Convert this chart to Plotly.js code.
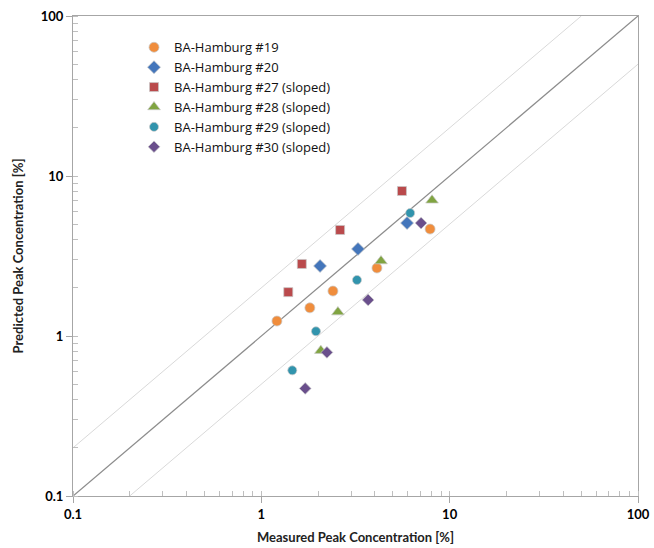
<!DOCTYPE html>
<html>
<head>
<meta charset="utf-8">
<script src="https://cdn.plot.ly/plotly-3.0.1.min.js"></script>
<style>
  html, body { margin: 0; padding: 0; background: #fff; }
  #chart { width: 654px; height: 548px; }
</style>
</head>
<body>
<div id="chart"></div>
<script>
// Measured vs. predicted peak concentration for the BA-Hamburg trials
const seriesNames = [
  'BA-Hamburg #19',
  'BA-Hamburg #20',
  'BA-Hamburg #27 (sloped)',
  'BA-Hamburg #28 (sloped)',
  'BA-Hamburg #29 (sloped)',
  'BA-Hamburg #30 (sloped)'
];

const measured19 = [1.21, 1.81, 2.40, 4.11, 7.87];
const predicted19 = [1.24, 1.50, 1.91, 2.66, 4.66];

const measured20 = [2.05, 3.26, 5.94];
const predicted20 = [2.74, 3.50, 5.08];

const measured27 = [1.39, 1.64, 2.62, 5.58];
const predicted27 = [1.88, 2.82, 4.60, 8.06];

const measured28 = [2.07, 2.55, 4.32, 8.06];
const predicted28 = [0.81, 1.41, 2.94, 7.05];

const measured29 = [1.46, 1.95, 3.22, 6.17];
const predicted29 = [0.61, 1.07, 2.24, 5.87];

const measured30 = [1.71, 2.23, 3.69, 7.05];
const predicted30 = [0.47, 0.79, 1.68, 5.08];

// Reference lines: perfect agreement and factor-of-two bounds
const lineX = [0.1, 100];
const factorTwo = 2;

const markerStyles = [
  { symbol: 'circle', color: '#F08D3C', size: 10 },
  { symbol: 'diamond', color: '#4476BB', size: 10 },
  { symbol: 'square', color: '#BA4A4C', size: 9 },
  { symbol: 'triangle-up', color: '#80A441', size: 11 },
  { symbol: 'circle', color: '#3194AD', size: 9 },
  { symbol: 'diamond', color: '#6A4F8C', size: 9 }
];

const xs = [measured19, measured20, measured27, measured28, measured29, measured30];
const ys = [predicted19, predicted20, predicted27, predicted28, predicted29, predicted30];

const traces = [];

traces.push({
  x: lineX.map(v => v * factorTwo > 100 ? 100 / factorTwo : v),
  y: lineX.map(v => Math.min(v * factorTwo, 100)),
  mode: 'lines', line: { color: '#D9D9D9', width: 1 },
  showlegend: false, hoverinfo: 'skip'
});
traces.push({
  x: lineX.map(v => Math.max(v, 0.1 * factorTwo)),
  y: lineX.map(v => Math.max(v, 0.1 * factorTwo) / factorTwo),
  mode: 'lines', line: { color: '#D9D9D9', width: 1 },
  showlegend: false, hoverinfo: 'skip'
});
traces.push({
  x: lineX, y: lineX,
  mode: 'lines', line: { color: '#8C8C8C', width: 1.3 },
  showlegend: false, hoverinfo: 'skip'
});

seriesNames.forEach((name, i) => {
  traces.push({
    x: xs[i], y: ys[i], name: name,
    mode: 'markers', type: 'scatter',
    marker: {
      symbol: markerStyles[i].symbol,
      color: markerStyles[i].color,
      size: markerStyles[i].size,
      line: { color: 'rgba(200,200,200,0.9)', width: 0.8 }
    }
  });
});

const axisCommon = {
  type: 'log',
  showgrid: false,
  zeroline: false,
  showline: true,
  linecolor: '#A6A6A6',
  linewidth: 1,
  mirror: true,
  ticks: 'outside',
  ticklen: 6,
  tickcolor: '#A6A6A6',
  tickvals: [0.1, 1, 10, 100],
  ticktext: ['0.1', '1', '10', '100'],
  tickfont: { family: 'Lato, "Open Sans", sans-serif', size: 13, color: '#000', weight: 'bold' },
  minor: { ticks: 'inside', ticklen: 5, tickcolor: '#BFBFBF', dtick: 'D1', showgrid: false }
};

const layout = {
  width: 654,
  height: 548,
  margin: { l: 73, r: 16, t: 16, b: 52 },
  paper_bgcolor: '#fff',
  plot_bgcolor: '#fff',
  font: { family: 'Lato, "Open Sans", sans-serif', color: '#222' },
  xaxis: Object.assign({}, axisCommon, {
    range: [-1, 2],
    title: { text: 'Measured Peak Concentration [%]', font: { size: 13, color: '#222', weight: 'bold' }, standoff: 12 }
  }),
  yaxis: Object.assign({}, axisCommon, {
    range: [-1, 2],
    title: { text: 'Predicted Peak Concentration [%]', font: { size: 13, color: '#222', weight: 'bold' }, standoff: 14 }
  }),
  showlegend: true,
  legend: {
    x: 0.108, y: 0.966, xanchor: 'left', yanchor: 'top',
    bgcolor: 'rgba(0,0,0,0)',
    font: { family: '"Open Sans", Lato, sans-serif', size: 13, color: '#111' },
    tracegroupgap: 0,
    itemsizing: 'trace'
  }
};

Plotly.newPlot('chart', traces, layout, { displayModeBar: false, staticPlot: true });
</script>
</body>
</html>
